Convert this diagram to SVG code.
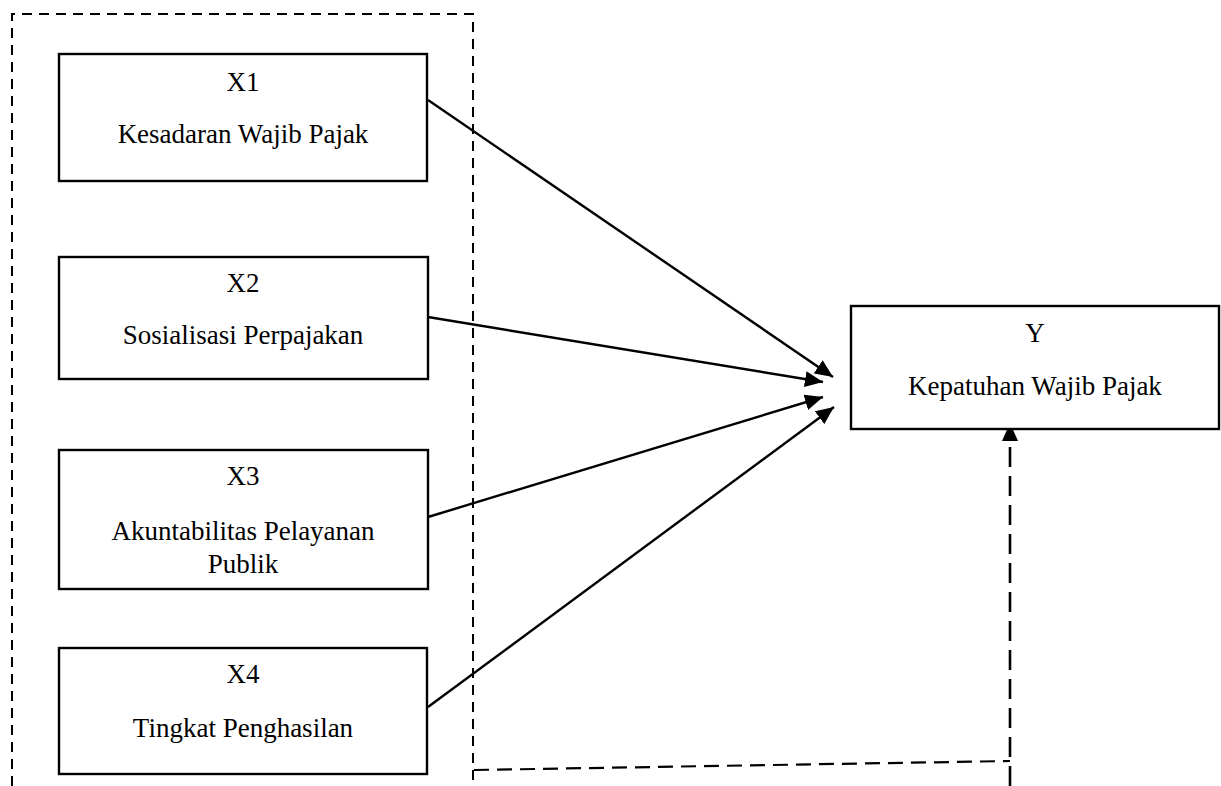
<svg xmlns="http://www.w3.org/2000/svg" width="1221" height="786" viewBox="0 0 1221 786">
<style>
.box{fill:#fff;stroke:#000;stroke-width:2.4}
.t{font-family:"Liberation Serif","Times New Roman",serif;font-size:27px;fill:#000;text-anchor:middle}
.arr{fill:none;stroke:#000;stroke-width:2.4}
.frame{fill:none;stroke:#000;stroke-width:2;stroke-dasharray:10 7}
.dash{fill:none;stroke:#000;stroke-width:2.2;stroke-dasharray:15 8}
.vdash{fill:none;stroke:#000;stroke-width:2.6;stroke-dasharray:20 9}
</style>
<defs>
<marker id="ah" markerUnits="userSpaceOnUse" markerWidth="20" markerHeight="16" refX="18" refY="8" orient="auto">
<path d="M0,0 L18,8 L0,16 z" fill="#000"/>
</marker>
</defs>
<rect width="1221" height="786" fill="#fff"/>
<g id="frame">
<path class="frame" d="M12,786 L12,14 L473,14 L473,786"/>
</g>
<g id="connectors">
<line class="arr" x1="428" y1="100" x2="833" y2="377" marker-end="url(#ah)"/>
<line class="arr" x1="428" y1="317" x2="823" y2="382" marker-end="url(#ah)"/>
<line class="arr" x1="428" y1="517" x2="823" y2="397" marker-end="url(#ah)"/>
<line class="arr" x1="428" y1="707" x2="834" y2="407" marker-end="url(#ah)"/>
<path class="dash" d="M474,770 L1010,761"/>
<line class="vdash" x1="1010" y1="786" x2="1010" y2="423" marker-end="url(#ah)"/>
</g>
<g id="X1">
<rect class="box" x="59" y="54" width="368" height="127"/>
<text class="t" x="243" y="91">X1</text>
<text class="t" x="243" y="143">Kesadaran Wajib Pajak</text>
</g>
<g id="X2">
<rect class="box" x="59" y="257" width="369" height="122"/>
<text class="t" x="243" y="292">X2</text>
<text class="t" x="243" y="344">Sosialisasi Perpajakan</text>
</g>
<g id="X3">
<rect class="box" x="59" y="450" width="369" height="139"/>
<text class="t" x="243" y="485">X3</text>
<text class="t" x="243" y="540">Akuntabilitas Pelayanan</text>
<text class="t" x="243" y="573">Publik</text>
</g>
<g id="X4">
<rect class="box" x="59" y="648" width="368" height="126"/>
<text class="t" x="243" y="683">X4</text>
<text class="t" x="243" y="737">Tingkat Penghasilan</text>
</g>
<g id="Y">
<rect class="box" x="851" y="306" width="368" height="123"/>
<text class="t" x="1035" y="342">Y</text>
<text class="t" x="1035" y="395">Kepatuhan Wajib Pajak</text>
</g>
</svg>
